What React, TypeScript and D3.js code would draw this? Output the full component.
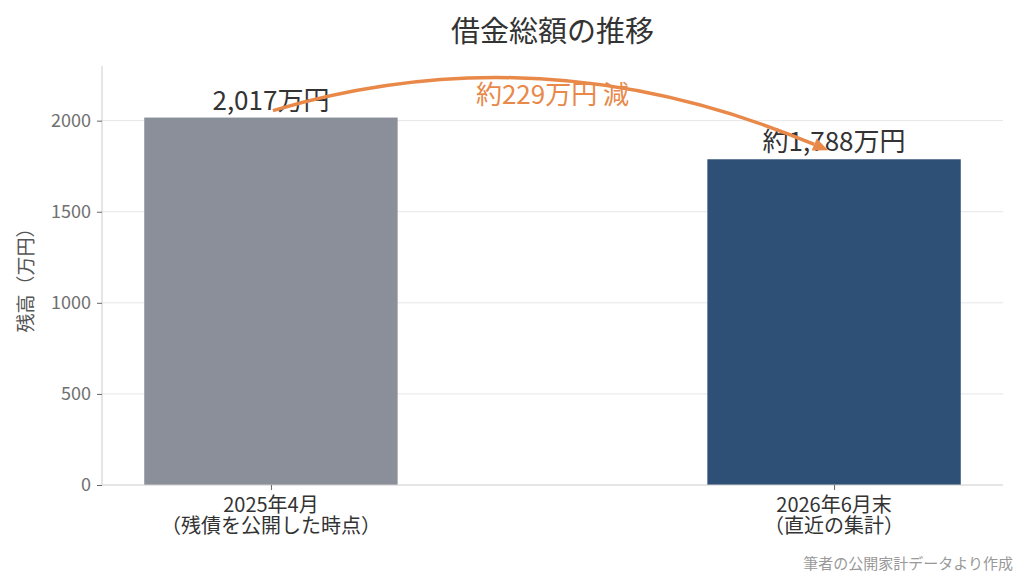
import * as d3 from "d3";
import { useEffect, useRef } from "react";

const width = 1024,
  height = 576,
  marginTop = 66,
  marginRight = 21,
  marginBottom = 91,
  marginLeft = 102;

// data
const categories = ["2025年4月\n（残債を公開した時点）", "2026年6月末\n（直近の集計）"];
const values = [2017, 1788];
const barLabels = ["2,017万円", "約1,788万円"];
const barColors = ["#8a8f99", "#2e5077"];
const yTicks = [0, 500, 1000, 1500, 2000];
const diffLabel = "約229万円 減";

const font = "'Noto Sans CJK JP', 'Noto Sans', sans-serif";

export default function App() {
  const ref = useRef<SVGSVGElement | null>(null);

  useEffect(() => {
    if (!ref.current) return;
    const svg = d3.select(ref.current);
    svg.selectAll("*").remove();

    const x = d3.scaleLinear([-0.3, 1.3], [marginLeft, width - marginRight]);
    const y = d3.scaleLinear([0, 2300], [height - marginBottom, marginTop]);
    const barW = x(0.45) - x(0);

    // grid
    svg
      .append("g")
      .selectAll("line")
      .data(yTicks.filter((d) => d > 0))
      .join("line")
      .attr("x1", marginLeft)
      .attr("x2", width - marginRight)
      .attr("y1", (d) => y(d))
      .attr("y2", (d) => y(d))
      .attr("stroke", "#e6e6e6")
      .attr("stroke-width", 1);

    // bars
    svg
      .append("g")
      .selectAll("rect")
      .data(values)
      .join("rect")
      .attr("x", (_, i) => x(i) - barW / 2)
      .attr("y", (d) => y(d))
      .attr("width", barW)
      .attr("height", (d) => y(0) - y(d))
      .attr("fill", (_, i) => barColors[i]);

    // y axis
    const gy = svg
      .append("g")
      .attr("transform", `translate(${marginLeft},0)`)
      .call(
        d3
          .axisLeft(y)
          .tickValues(yTicks)
          .tickSize(5)
          .tickPadding(6)
          .tickFormat(d3.format("d"))
      );
    gy.select(".domain").attr("stroke", "#cccccc").attr("d", `M0,${y(0)}V${marginTop}`);
    gy.selectAll(".tick line").attr("stroke", "#666");
    gy.selectAll(".tick text")
      .attr("fill", "#707070")
      .style("font-family", font)
      .style("font-size", "18px");

    // x axis
    const gx = svg
      .append("g")
      .attr("transform", `translate(0,${y(0)})`)
      .call(
        d3
          .axisBottom(x)
          .tickValues([0, 1])
          .tickSize(5)
          .tickFormat(() => "")
      );
    gx.select(".domain").attr("stroke", "#cccccc").attr("d", `M${marginLeft},0H${width - marginRight}`);
    gx.selectAll(".tick line").attr("stroke", "#666");
    categories.forEach((c, i) => {
      const t = gx
        .append("text")
        .attr("x", x(i))
        .attr("y", 27)
        .attr("text-anchor", "middle")
        .attr("fill", "#333")
        .style("font-family", font)
        .style("font-size", "20px");
      c.split("\n").forEach((line, j) => {
        t.append("tspan").attr("x", x(i)).attr("dy", j === 0 ? 0 : 21).text(line);
      });
    });

    // y label
    svg
      .append("text")
      .attr("transform", `translate(33,${(y(0) + marginTop) / 2}) rotate(-90)`)
      .attr("text-anchor", "middle")
      .attr("fill", "#555")
      .style("font-family", font)
      .style("font-size", "19px")
      .text("残高（万円）");

    // bar labels
    svg
      .append("g")
      .selectAll("text")
      .data(values)
      .join("text")
      .attr("x", (_, i) => x(i))
      .attr("y", (d) => y(d) - 8)
      .attr("text-anchor", "middle")
      .attr("fill", "#333")
      .style("font-family", font)
      .style("font-size", "26px")
      .text((_, i) => barLabels[i]);

    // arrow
    const p0: [number, number] = [x(0) + 2, y(values[0]) - 7];
    const p2: [number, number] = [x(1) - 6, y(values[1]) - 9];
    const rad = 0.18;
    const mx = (p0[0] + p2[0]) / 2,
      my = (p0[1] + p2[1]) / 2;
    const dx = p2[0] - p0[0],
      dy = p2[1] - p0[1];
    const c: [number, number] = [mx - rad * dy, my - rad * dx];
    const ang = Math.atan2(p2[1] - c[1], p2[0] - c[0]);
    const headLen = 15,
      headW = 6.5;
    const base: [number, number] = [p2[0] - headLen * Math.cos(ang), p2[1] - headLen * Math.sin(ang)];
    const path = d3.path();
    path.moveTo(p0[0], p0[1]);
    path.quadraticCurveTo(c[0], c[1], base[0], base[1]);
    svg
      .append("path")
      .attr("d", path.toString())
      .attr("fill", "none")
      .attr("stroke", "#e8894a")
      .attr("stroke-width", 3.5);
    svg
      .append("path")
      .attr(
        "d",
        `M${p2[0]},${p2[1]}L${base[0] - headW * Math.sin(ang)},${base[1] + headW * Math.cos(ang)}L${
          base[0] + headW * Math.sin(ang)
        },${base[1] - headW * Math.cos(ang)}Z`
      )
      .attr("fill", "#e8894a");

    svg
      .append("text")
      .attr("x", (x(0) + x(1)) / 2)
      .attr("y", 104)
      .attr("text-anchor", "middle")
      .attr("fill", "#e8894a")
      .style("font-family", font)
      .style("font-size", "26px")
      .text(diffLabel);

    // title
    svg
      .append("text")
      .attr("x", (marginLeft + width - marginRight) / 2)
      .attr("y", 42)
      .attr("text-anchor", "middle")
      .attr("fill", "#333")
      .style("font-family", font)
      .style("font-size", "29px")
      .text("借金総額の推移");

    // source note
    svg
      .append("text")
      .attr("x", width - 11)
      .attr("y", 569)
      .attr("text-anchor", "end")
      .attr("fill", "#999")
      .style("font-family", font)
      .style("font-size", "15px")
      .text("筆者の公開家計データより作成");
  }, []);

  return (
    <svg
      ref={ref}
      width={width}
      height={height}
      viewBox={`0 0 ${width} ${height}`}
      style={{ position: "absolute", left: 0, top: 0, background: "#fff" }}
    />
  );
}
